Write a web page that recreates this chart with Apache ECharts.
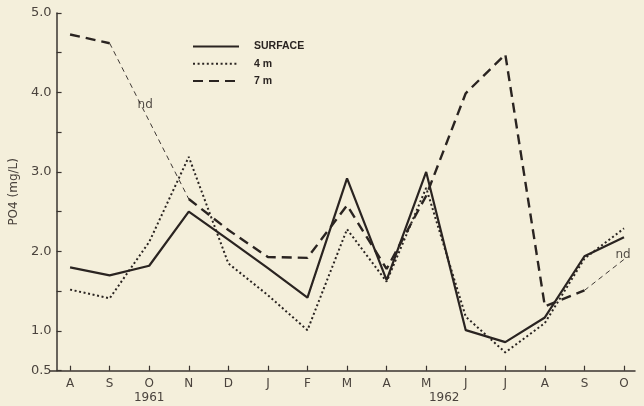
<!DOCTYPE html>
<html>
<head>
<meta charset="utf-8">
<script src="https://cdn.jsdelivr.net/npm/echarts@6/dist/echarts.min.js"></script>
<style>
  html, body { margin: 0; padding: 0; background: #f4efdb; }
  #chart { width: 644px; height: 406px; }
</style>
</head>
<body>
<div id="chart"></div>
<script>
// Categories (months Aug 1961 – Oct 1962)
const months = ['A','S','O','N','D','J','F','M','A','M','J','J','A','S','O'];
// Year labels placed under given category indices
const yearLabels = { 2: '1961', 9: '1962' };
// PO4 (mg/L)
const surface = [1.80, 1.70, 1.82, 2.50, 2.15, 1.79, 1.42, 2.92, 1.64, 3.00, 1.01, 0.86, 1.17, 1.94, 2.18];
const m4      = [1.52, 1.41, 2.12, 3.19, 1.85, 1.45, 1.01, 2.28, 1.62, 2.80, 1.18, 0.73, 1.10, 1.91, 2.29];
const m7      = [4.73, 4.62, null, 2.66, 2.27, 1.93, 1.92, 2.58, 1.78, 2.70, 3.99, 4.48, 1.31, 1.51, null];
// thin dashed line drawn across "no data" months for 7 m
const m7nd    = [null, 4.62, 3.64, 2.66, null, null, null, null, null, null, null, null, null, 1.51, 1.90];
const ndIndex = [2, 14];
// y tick labels shown
const yLabels = [0.5, 1, 2, 3, 4, 5];

const ink = '#2a2421';
const axisInk = '#3a3430';
const textInk = '#4a433d';

const chart = echarts.init(document.getElementById('chart'), null, { renderer: 'canvas' });

// "nd" markers sit on the thin 7 m line at the no-data months
const ndOffsets = { 2: [-4, -16], 14: [-1, -5] };
const ndMarks = m7nd.map((v, i) => (ndIndex.includes(i) ? { value: v, label: { offset: ndOffsets[i] } } : null));

chart.setOption({
  backgroundColor: '#f4efdb',
  animation: false,
  grid: [
    { left: 63.5, right: 20, top: 13, bottom: 35.3 },
    { left: 50, right: 9, top: 13, bottom: 35.3 }
  ],
  legend: {
    data: ['SURFACE', '4 m', '7 m'],
    orient: 'vertical',
    left: 187, top: 36,
    itemWidth: 46, itemHeight: 14, itemGap: 6,
    itemStyle: { opacity: 0 },
    textStyle: { color: ink, fontSize: 10.5, fontWeight: 'bold', fontFamily: 'Liberation Sans', padding: [0, 0, 0, 10] },
    selectedMode: false
  },
  xAxis: [
    {
      type: 'category', gridIndex: 0, data: months, boundaryGap: false,
      axisLine: { show: false },
      axisTick: { show: true, inside: true, length: 5, lineStyle: { color: axisInk, width: 1.2 } },
      axisLabel: {
        margin: 6, color: textInk, fontSize: 12, fontFamily: 'DejaVu Sans', lineHeight: 14,
        interval: 0,
        formatter: (val, idx) => {
          if (idx === 2) return val + '\n{y1|' + yearLabels[2] + '}';
          if (idx === 9) return val + '\n{y2|' + yearLabels[9] + '}';
          return val;
        },
        rich: {
          y1: { fontSize: 12, fontFamily: 'DejaVu Sans', color: textInk, lineHeight: 14 },
          y2: { fontSize: 12, fontFamily: 'DejaVu Sans', color: textInk, lineHeight: 14, padding: [0, 0, 0, 36] }
        }
      },
      splitLine: { show: false }
    },
    {
      type: 'value', gridIndex: 1, min: 0, max: 1,
      axisLine: { show: true, onZero: false, lineStyle: { color: axisInk, width: 1.5 } },
      axisTick: { show: false }, axisLabel: { show: false }, splitLine: { show: false }
    }
  ],
  yAxis: [
    {
      type: 'value', gridIndex: 0, min: 0.5, max: 5, interval: 0.5, offset: 13.5,
      name: 'PO4 (mg/L)', nameLocation: 'middle', nameGap: 35, nameRotate: 90,
      nameTextStyle: { color: textInk, fontSize: 12, fontFamily: 'DejaVu Sans' },
      axisLine: { show: true, lineStyle: { color: axisInk, width: 1.5 } },
      axisTick: { show: true, inside: true, length: 5, lineStyle: { color: axisInk, width: 1.2 } },
      axisLabel: {
        margin: 5, color: textInk, fontSize: 13, fontFamily: 'DejaVu Sans',
        formatter: v => yLabels.some(t => Math.abs(t - v) < 1e-6) ? v.toFixed(1) : ''
      },
      splitLine: { show: false }
    },
    { type: 'value', gridIndex: 1, show: false, min: 0, max: 1 }
  ],
  series: [
    {
      name: 'SURFACE', type: 'line', data: surface, symbol: 'none',
      lineStyle: { color: ink, width: 2.2 }, itemStyle: { color: ink }
    },
    {
      name: '4 m', type: 'line', data: m4, symbol: 'none',
      lineStyle: { color: ink, width: 2, type: [2, 2.6] }, itemStyle: { color: ink }
    },
    {
      name: '7 m', type: 'line', data: m7, symbol: 'none', connectNulls: false,
      lineStyle: { color: ink, width: 2.4, type: [10, 6] }, itemStyle: { color: ink }
    },
    {
      name: '7 m nd', type: 'line', data: m7nd, symbol: 'none',
      connectNulls: false,
      lineStyle: { color: ink, width: 0.9, type: [5, 4] }, itemStyle: { color: ink }, z: 1
    },
    {
      name: 'nd', type: 'scatter', data: ndMarks, symbol: 'circle', symbolSize: 1,
      itemStyle: { color: 'rgba(0,0,0,0)' },
      label: {
        show: true, formatter: 'nd', position: 'inside',
        color: ink, fontSize: 12, fontFamily: 'DejaVu Sans'
      }
    }
  ]
});
</script>
</body>
</html>
